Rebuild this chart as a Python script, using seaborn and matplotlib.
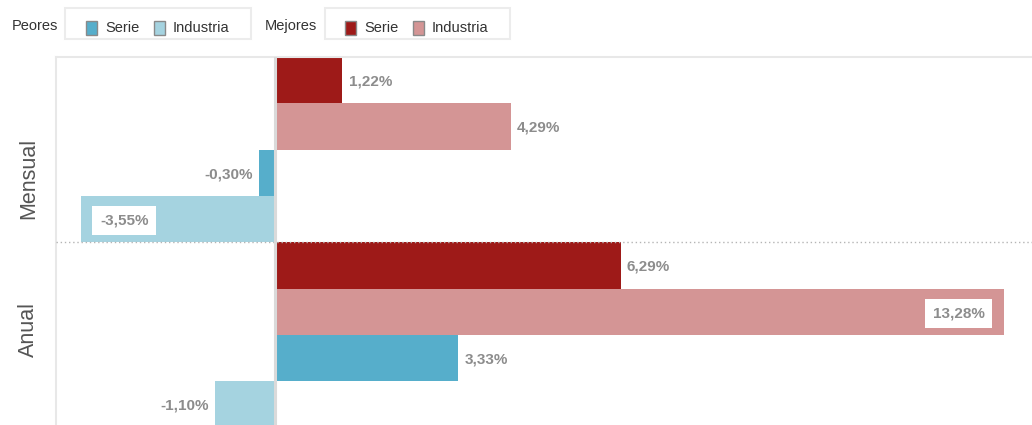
import numpy as np
import pandas as pd
import seaborn as sns
import matplotlib.pyplot as plt
from matplotlib.patches import Rectangle

# datos
periodos = ["Mensual", "Anual"]
series = ["Mejores Serie", "Mejores Industria", "Peores Serie", "Peores Industria"]
mensual = [1.22, 4.29, -0.30, -3.55]
anual = [6.29, 13.28, 3.33, -1.10]
colores = ["#9e1a18", "#d49595", "#56aecb", "#a5d3e0"]
grupos_leyenda = ["Peores", "Mejores"]
etiquetas_leyenda = ["Serie", "Industria"]

df = pd.DataFrame({
    "periodo": np.repeat(periodos, len(series)),
    "serie": series * len(periodos),
    "valor": mensual + anual,
})

sns.set_style("white")
plt.rcParams["font.family"] = ["Liberation Sans", "DejaVu Sans"]

W, H = 1032, 425
fig = plt.figure(figsize=(W / 100, H / 100), dpi=100)
ax = fig.add_axes([56 / W, (H - 427.6) / H, (W - 56) / W, (427.6 - 57) / H])

sns.barplot(
    data=df, x="valor", y="periodo", hue="serie",
    order=periodos, hue_order=series, palette=colores,
    orient="h", width=1.0, saturation=1, errorbar=None,
    linewidth=0, legend=False, ax=ax,
)

xmin, xmax = -4.0, 13.79
ax.set_xlim(xmin, xmax)
ax.set_ylim(1.5, -0.5)

# etiquetas de valores
for cont, nombre in zip(ax.containers, series):
    vals = df[df.serie == nombre].valor.tolist()
    for bar, val in zip(cont, vals):
        y = bar.get_y() + bar.get_height() / 2
        txt = f"{val:.2f}".replace(".", ",") + "%"
        kw = dict(va="center_baseline", fontsize=11, fontweight="bold", color="#8c8c8c",
                  textcoords="offset points", zorder=6)
        if val > 0 and val + 1.3 > xmax:
            ax.annotate(txt, (val, y), xytext=(-14, 0), ha="right",
                        bbox=dict(boxstyle="square,pad=0.5", fc="white", ec="none"), **kw)
        elif val < 0 and val - 1.3 < xmin:
            ax.annotate(txt, (val, y), xytext=(14, 0), ha="left",
                        bbox=dict(boxstyle="square,pad=0.5", fc="white", ec="none"), **kw)
        elif val >= 0:
            ax.annotate(txt, (val, y), xytext=(4.5, 0), ha="left", **kw)
        else:
            ax.annotate(txt, (val, y), xytext=(-4.5, 0), ha="right", **kw)

ax.axvline(0, color="#dadada", lw=2.2, zorder=5)
ax.axhline(0.5, color="#b5b5b5", lw=1, ls=(0, (1, 2)), zorder=4)

for s in ["right", "bottom"]:
    ax.spines[s].set_visible(False)
for s in ["left", "top"]:
    ax.spines[s].set_color("#e8e8e8")
    ax.spines[s].set_linewidth(1.5)

ax.set_xticks([])
ax.set_xlabel("")
ax.set_ylabel("")
ax.set_yticks([0.158, 0.968], periodos, rotation=90, va="center", fontsize=15.5, color="#555555")
ax.tick_params(axis="y", length=0, pad=12)

# leyenda manual
def rect(x0, y0, x1, y1, **kw):
    fig.patches.append(Rectangle((x0 / W, 1 - y1 / H), (x1 - x0) / W, (y1 - y0) / H,
                                 transform=fig.transFigure, **kw))

leg_x = [12, 265]
box_x = [(65, 251), (325, 510)]
sw_x = [(86, 154), (345, 413)]
col_leg = [[colores[2], colores[3]], [colores[0], colores[1]]]

for i, grupo in enumerate(grupos_leyenda):
    fig.text(leg_x[i] / W, 1 - 26 / H, grupo, va="center", fontsize=10.5, color="#333333")
    rect(box_x[i][0], 8, box_x[i][1], 39, fill=False, ec="#ececec", lw=1.5)
    for j, lab in enumerate(etiquetas_leyenda):
        x0 = sw_x[i][j]
        rect(x0, 21, x0 + 11, 35, fc=col_leg[i][j], ec="#8a8a8a", lw=1)
        fig.text((x0 + 19) / W, 1 - 28 / H, lab, va="center", fontsize=10.5, color="#333333")

fig.savefig("out.png", dpi=100)
